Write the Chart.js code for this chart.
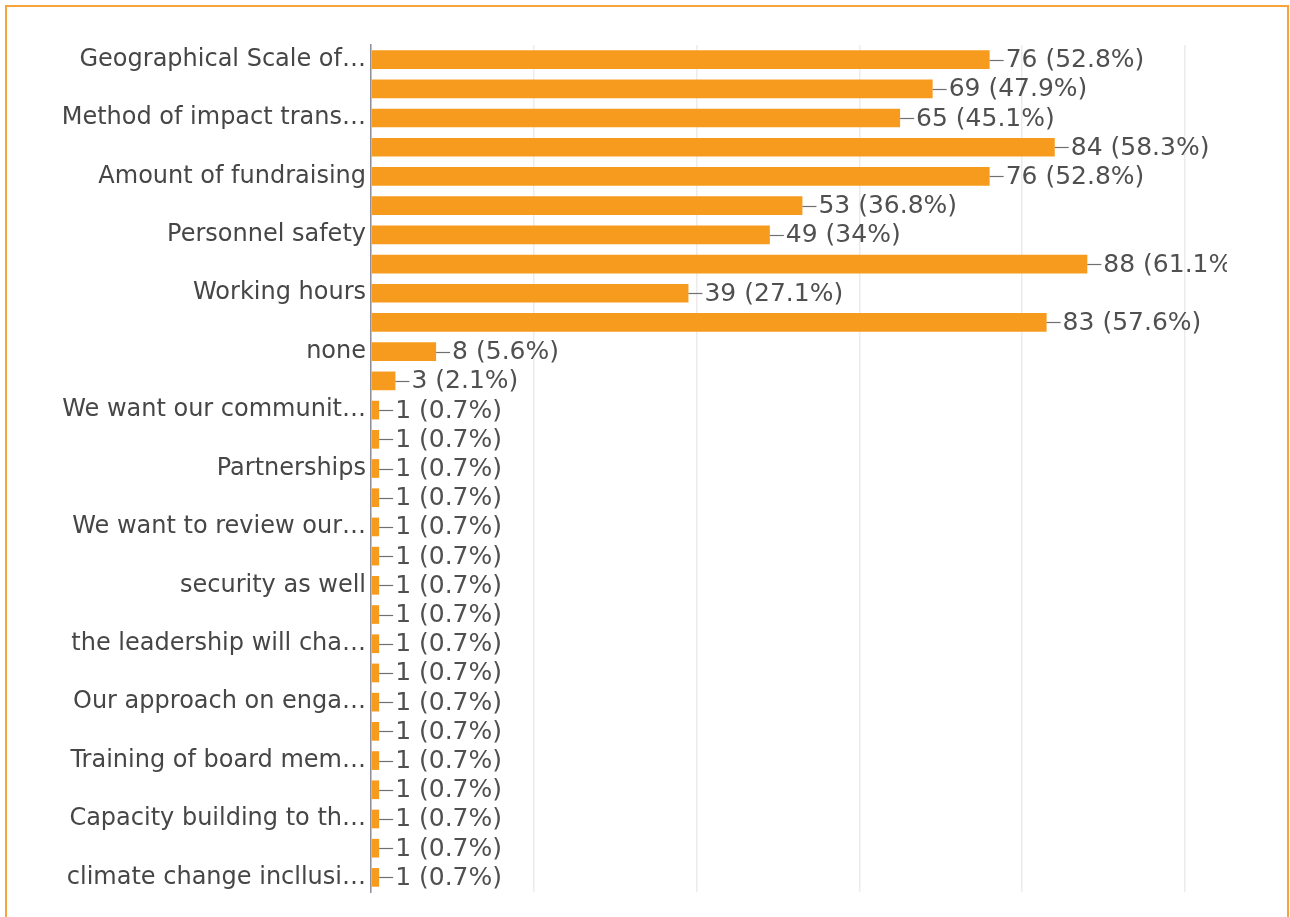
<!DOCTYPE html>
<html>
<head>
<meta charset="utf-8">
<script src="https://cdn.jsdelivr.net/npm/chart.js@4.4.1/dist/chart.umd.min.js"></script>
<style>
  html, body { margin: 0; padding: 0; background: #fff; }
  .frame {
    position: absolute; left: 5px; top: 5px; width: 1284px; height: 940px;
    border: 2px solid #f7a43a; box-sizing: border-box;
  }
  #wrap { position: absolute; left: 0; top: 0; width: 1290px; height: 917px; }
</style>
</head>
<body>
<div class="frame"></div>
<div id="wrap"><canvas id="changesChart"></canvas></div>
<script>
// Categories (only every other label is readable in the source, the rest are blank)
const categories = [
    'Geographical Scale of…', '',
    'Method of impact trans…', '',
    'Amount of fundraising', '',
    'Personnel safety', '',
    'Working hours', '',
    'none', '',
    'We want our communit…', '',
    'Partnerships', '',
    'We want to review our…', '',
    'security as well', '',
    'the leadership will cha…', '',
    'Our approach on enga…', '',
    'Training of board mem…', '',
    'Capacity building to th…', '',
    'climate change incllusi…'
];
// Number of responses per category
const responses = [76, 69, 65, 84, 76, 53, 49, 88, 39, 83, 8, 3,
    1, 1, 1, 1, 1, 1, 1, 1, 1, 1, 1, 1, 1, 1, 1, 1, 1];
const totalResponses = 144;
const xTicks = [0, 20, 40, 60, 80, 100];

const barColor = '#f79b1e';
const fontFamily = '"DejaVu Sans", sans-serif';

// Draws "—76 (52.8%)" after each bar
const valueLabels = {
    id: 'valueLabels',
    afterDatasetsDraw(chart) {
        const ctx = chart.ctx;
        const area = chart.chartArea;
        const meta = chart.getDatasetMeta(0);
        ctx.save();
        ctx.beginPath();
        ctx.rect(0, 0, area.right + 42, chart.height);
        ctx.clip();
        ctx.font = `25px ${fontFamily}`;
        ctx.textBaseline = 'middle';
        ctx.fillStyle = '#505050';
        ctx.strokeStyle = '#707070';
        ctx.lineWidth = 1.2;
        meta.data.forEach((bar, i) => {
            const v = responses[i];
            const pct = Math.round(v / totalResponses * 1000) / 10;
            ctx.beginPath();
            ctx.moveTo(bar.x, Math.round(bar.y) + 0.5);
            ctx.lineTo(bar.x + 14, Math.round(bar.y) + 0.5);
            ctx.stroke();
            ctx.fillText(`${v} (${pct}%)`, bar.x + 16, bar.y + 1);
        });
        ctx.restore();
    }
};

const ctxChanges = document.getElementById('changesChart').getContext('2d');
const changesChart = new Chart(ctxChanges, {
    type: 'bar',
    data: {
        labels: categories,
        datasets: [{
            data: responses,
            backgroundColor: barColor,
            borderWidth: 0,
            categoryPercentage: 0.64,
            barPercentage: 1
        }]
    },
    options: {
        indexAxis: 'y',
        responsive: true,
        maintainAspectRatio: false,
        animation: false,
        layout: { padding: { top: 45, bottom: 25, right: 105, left: 0 } },
        scales: {
            x: {
                min: xTicks[0],
                max: xTicks[xTicks.length - 1],
                afterBuildTicks: (scale) => { scale.ticks = xTicks.map(v => ({ value: v })); },
                ticks: { display: false },
                grid: { color: '#ececec', lineWidth: 1.5, drawTicks: false },
                border: { display: false }
            },
            y: {
                afterFit: (scale) => { scale.width = 371; },
                ticks: {
                    autoSkip: false,
                    padding: 5,
                    color: '#464646',
                    font: { family: fontFamily, size: 24 }
                },
                grid: { display: false, drawTicks: false },
                border: { display: true, color: '#8e8e9c', width: 1.5 }
            }
        },
        plugins: {
            legend: { display: false },
            tooltip: { enabled: false }
        }
    },
    plugins: [valueLabels]
});
</script>
</body>
</html>
